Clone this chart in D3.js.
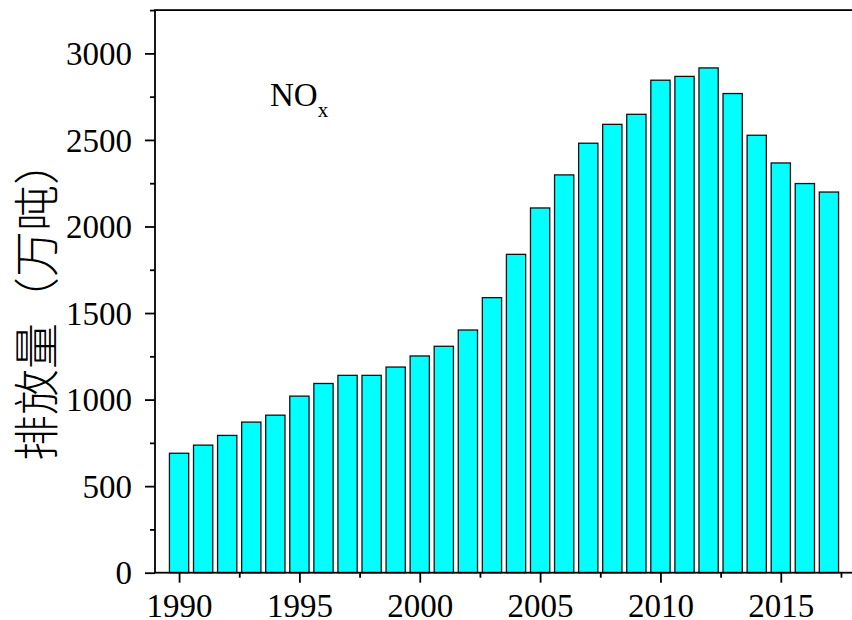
<!DOCTYPE html>
<html>
<head>
<meta charset="utf-8">
<script src="https://cdn.jsdelivr.net/npm/d3@7"></script>
<style>
  html, body { margin: 0; padding: 0; background: #fff; }
  svg { display: block; }
</style>
</head>
<body>
<svg id="chart" width="852" height="620"></svg>
<script>
// Annual NOx emissions, 1990–2017 (10^4 t)
const years = [1990, 1991, 1992, 1993, 1994, 1995, 1996, 1997, 1998, 1999,
               2000, 2001, 2002, 2003, 2004, 2005, 2006, 2007, 2008, 2009,
               2010, 2011, 2012, 2013, 2014, 2015, 2016, 2017];
const emissions = [690, 737, 793, 870, 910, 1020, 1093, 1140, 1140, 1188,
                   1252, 1308, 1402, 1589, 1839, 2107, 2298, 2481, 2590, 2648,
                   2845, 2867, 2916, 2768, 2527, 2367, 2248, 2199];
const yTicks = [0, 500, 1000, 1500, 2000, 2500, 3000];
const yMinorTicks = [250, 750, 1250, 1750, 2250, 2750, 3250];
const xTicks = [1990, 1995, 2000, 2005, 2010, 2015];
const xMinorTicks = [1992.5, 1997.5, 2002.5, 2007.5, 2012.5, 2017.5];
const yTitle = "排放量（万吨）";
const species = "NO";
const speciesSub = "x";

const svg = d3.select("#chart");
const plotL = 155, plotR = 853, plotT = 10.1, plotB = 572.7;
const serif = "'Liberation Serif', 'Times New Roman', serif";

const x = d3.scaleLinear().domain([1989, 2018]).range([plotL, plotR]);
const y = d3.scaleLinear().domain([0, 3250]).range([plotB, plotT]);
const barW = (x(1991) - x(1990)) * 0.8;

// bars
svg.append("g")
  .selectAll("rect")
  .data(years.map((yr, i) => ({ yr, v: emissions[i] })))
  .join("rect")
  .attr("x", d => x(d.yr) - barW / 2)
  .attr("width", barW)
  .attr("y", d => y(d.v))
  .attr("height", d => y(0) - y(d.v))
  .attr("fill", "#00FFFF")
  .attr("stroke", "#111")
  .attr("stroke-width", 1.3);

// frame
svg.append("rect")
  .attr("x", plotL).attr("y", plotT)
  .attr("width", plotR - plotL).attr("height", plotB - plotT)
  .attr("fill", "none").attr("stroke", "#000").attr("stroke-width", 1.8);

// y axis
const yAxis = svg.append("g")
  .attr("transform", `translate(${plotL},0)`)
  .call(d3.axisLeft(y).tickValues(yTicks).tickSize(10).tickSizeOuter(0).tickPadding(13)
        .tickFormat(d3.format("d")));
yAxis.select(".domain").remove();
yAxis.selectAll(".tick line").attr("stroke", "#000").attr("stroke-width", 1.8);
yAxis.selectAll(".tick text")
  .attr("font-family", serif).attr("font-size", 33).attr("fill", "#000")
  .attr("dy", "0.34em");
const yMinor = svg.append("g")
  .attr("transform", `translate(${plotL},0)`)
  .call(d3.axisLeft(y).tickValues(yMinorTicks).tickSize(5).tickSizeOuter(0).tickFormat(""));
yMinor.select(".domain").remove();
yMinor.selectAll(".tick line").attr("stroke", "#000").attr("stroke-width", 1.8);

// x axis
const xAxis = svg.append("g")
  .attr("transform", `translate(0,${plotB})`)
  .call(d3.axisBottom(x).tickValues(xTicks).tickSize(10).tickSizeOuter(0).tickPadding(11)
        .tickFormat(d3.format("d")));
xAxis.select(".domain").remove();
xAxis.selectAll(".tick line").attr("stroke", "#000").attr("stroke-width", 1.8);
xAxis.selectAll(".tick text")
  .attr("font-family", serif).attr("font-size", 33).attr("fill", "#000");
const xMinor = svg.append("g")
  .attr("transform", `translate(0,${plotB})`)
  .call(d3.axisBottom(x).tickValues(xMinorTicks).tickSize(5).tickSizeOuter(0).tickFormat(""));
xMinor.select(".domain").remove();
xMinor.selectAll(".tick line").attr("stroke", "#000").attr("stroke-width", 1.8);

// y title
svg.append("text")
  .attr("transform", "translate(33,300) rotate(-90)")
  .attr("text-anchor", "middle")
  .attr("dominant-baseline", "central")
  .attr("font-family", "'Noto Sans CJK SC', sans-serif")
  .attr("font-weight", 300)
  .attr("font-size", 46)
  .attr("fill", "#000")
  .text(yTitle);

// species label
const lbl = svg.append("text")
  .attr("x", 270).attr("y", 106)
  .attr("font-family", serif).attr("font-size", 33).attr("fill", "#000");
lbl.append("tspan").text(species);
lbl.append("tspan").attr("font-size", 21).attr("dy", 10.5).text(speciesSub);
</script>
</body>
</html>
